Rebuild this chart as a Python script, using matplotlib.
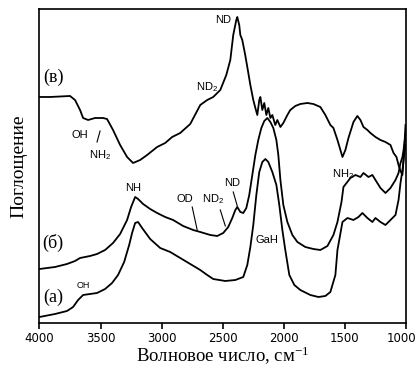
import matplotlib
matplotlib.use("Agg")
import matplotlib.pyplot as plt
from matplotlib.transforms import ScaledTranslation

plt.rcParams['mathtext.default'] = 'regular'

# Wavenumber (cm^-1) and absorbance (arbitrary units)
# Curve (в) - top
wn_v = [4000, 3914, 3832, 3750, 3709, 3668, 3643, 3602, 3545, 3480, 3447, 3398,
        3340, 3283, 3234, 3176, 3119, 3037, 2971, 2914, 2848, 2766, 2684, 2627,
        2578, 2520, 2471, 2438, 2414, 2389, 2381, 2365, 2356, 2340, 2316, 2299,
        2274, 2250, 2233, 2217, 2201, 2192, 2176, 2160, 2143, 2127, 2110, 2094,
        2070, 2053, 2028, 2004, 1971, 1947, 1906, 1865, 1808, 1758, 1701, 1660,
        1619, 1594, 1561, 1520, 1496, 1471, 1430, 1398, 1373, 1348, 1316, 1291,
        1250, 1209, 1168, 1127, 1102, 1078, 1061, 1045, 1029, 1020, 1012, 1004]
ab_v = [226, 226, 226.5, 227, 223, 213, 205, 203, 205, 205, 204, 193,
        178, 166, 160, 163, 168, 176, 180, 186, 190, 199, 218, 223,
        226, 233, 248, 263, 288, 303, 306, 298, 288, 283, 268, 256,
        238, 223, 215, 208, 223, 226, 213, 220, 208, 215, 205, 208,
        198, 203, 196, 200, 208, 213, 217, 219, 220, 219, 216, 208,
        198, 195, 183, 166, 173, 185, 201, 207, 203, 196, 193, 190,
        186, 183, 181, 178, 170, 166, 158, 152, 148, 163, 180, 198]

# Curve (б) - middle
wn_b = [4000, 3873, 3775, 3709, 3668, 3586, 3529, 3463, 3398, 3340, 3283, 3250,
        3217, 3193, 3152, 3094, 3037, 2971, 2906, 2824, 2742, 2684, 2602, 2545,
        2496, 2455, 2422, 2397, 2381, 2356, 2332, 2307, 2283, 2258, 2233, 2209,
        2184, 2160, 2135, 2110, 2086, 2061, 2045, 2028, 2004, 1971, 1930, 1889,
        1824, 1758, 1701, 1643, 1594, 1561, 1528, 1512, 1455, 1414, 1373, 1348,
        1307, 1275, 1250, 1209, 1168, 1127, 1086, 1061, 1045, 1029, 1020, 1004]
ab_b = [54, 56, 59, 62, 65, 67, 69, 73, 80, 89, 103, 116,
        126, 124, 119, 114, 110, 106, 103, 97, 93, 91, 88, 87,
        90, 96, 105, 113, 116, 111, 110, 115, 128, 148, 168, 183,
        195, 202, 205, 201, 195, 183, 168, 143, 118, 101, 88, 81,
        76, 74, 73, 77, 88, 101, 121, 136, 145, 148, 146, 150,
        146, 148, 143, 135, 130, 135, 143, 150, 160, 166, 173, 188]

# Curve (а) - bottom
wn_a = [4000, 3873, 3775, 3725, 3684, 3643, 3586, 3529, 3463, 3406, 3357, 3307,
        3266, 3242, 3217, 3193, 3160, 3094, 3012, 2930, 2848, 2766, 2684, 2627,
        2578, 2479, 2397, 2332, 2299, 2274, 2250, 2225, 2201, 2176, 2151, 2127,
        2094, 2061, 2037, 2012, 1988, 1955, 1914, 1865, 1783, 1717, 1660, 1619,
        1578, 1561, 1520, 1479, 1430, 1389, 1357, 1316, 1275, 1250, 1209, 1168,
        1127, 1086, 1061, 1045, 1029, 1020, 1004]
ab_a = [6, 9, 12, 16, 23, 28, 29, 30, 34, 40, 48, 61,
        78, 90, 100, 101, 95, 84, 75, 71, 65, 59, 53, 48,
        44, 42, 43, 46, 58, 76, 98, 128, 151, 161, 164, 161,
        151, 138, 118, 93, 73, 48, 38, 33, 28, 26, 27, 31,
        48, 73, 101, 105, 103, 106, 110, 105, 101, 105, 101, 98,
        103, 108, 123, 140, 153, 163, 178]

xticks = [4000, 3500, 3000, 2500, 2000, 1500, 1000]

fig = plt.figure(figsize=(4.17, 3.67), dpi=100)
ax = fig.add_axes([0.0947, 0.1199, 0.8789, 0.8556])

for wn, ab in [(wn_v, ab_v), (wn_b, ab_b), (wn_a, ab_a)]:
    ax.plot(wn, ab, color='black', lw=1.3)

ax.set_xlim(4000, 1000)
ax.set_ylim(0, 314)
ax.set_xticks(xticks)
ax.set_xticklabels([str(t) for t in xticks], fontfamily='DejaVu Sans', fontsize=8.5)
ax.set_yticks([])
ax.tick_params(axis='x', direction='out', length=4, width=1.2, pad=2.5)
for s in ax.spines.values():
    s.set_linewidth(1.2)
last = ax.get_xticklabels()[-1]
last.set_transform(last.get_transform() + ScaledTranslation(-0.05, 0, fig.dpi_scale_trans))

ax.set_xlabel('Волновое число, см$^{-1}$', fontfamily='Liberation Serif', fontsize=13.5, labelpad=-0.5)
ax.set_ylabel('Поглощение', fontfamily='Liberation Serif', fontsize=14, labelpad=9)

serif = dict(fontfamily='Liberation Serif', fontsize=13, ha='center', va='center')
ax.text(3889, 246, '(в)', **serif)
ax.text(3889, 80, '(б)', **serif)
ax.text(3889, 26, '(а)', **serif)

sm = dict(fontfamily='Liberation Sans', fontsize=8, ha='center', va='center')
ax.text(3668, 188, 'OH', **sm)
ax.text(3504, 168, 'NH$_2$', **sm)
ax.plot([3504, 3529], [192, 181], color='black', lw=0.8)
ax.text(2496, 303, 'ND', **sm)
ax.text(2627, 236, 'ND$_2$', **sm)
ax.text(1512, 149, 'NH$_2$', **sm)
ax.text(3234, 135, 'NH', **sm)
ax.text(2807, 124, 'OD', **sm)
ax.plot([2750, 2709], [116, 93], color='black', lw=0.8)
ax.text(2578, 124, 'ND$_2$', **sm)
ax.plot([2520, 2479], [113, 97], color='black', lw=0.8)
ax.text(2422, 140, 'ND', **sm)
ax.plot([2414, 2381], [131, 117], color='black', lw=0.8)
ax.text(2135, 83, 'GaH', **sm)
ax.text(3640, 37, 'OH', fontfamily='Liberation Sans', fontsize=6.5, ha='center', va='center')

fig.savefig('out.png', dpi=100)
